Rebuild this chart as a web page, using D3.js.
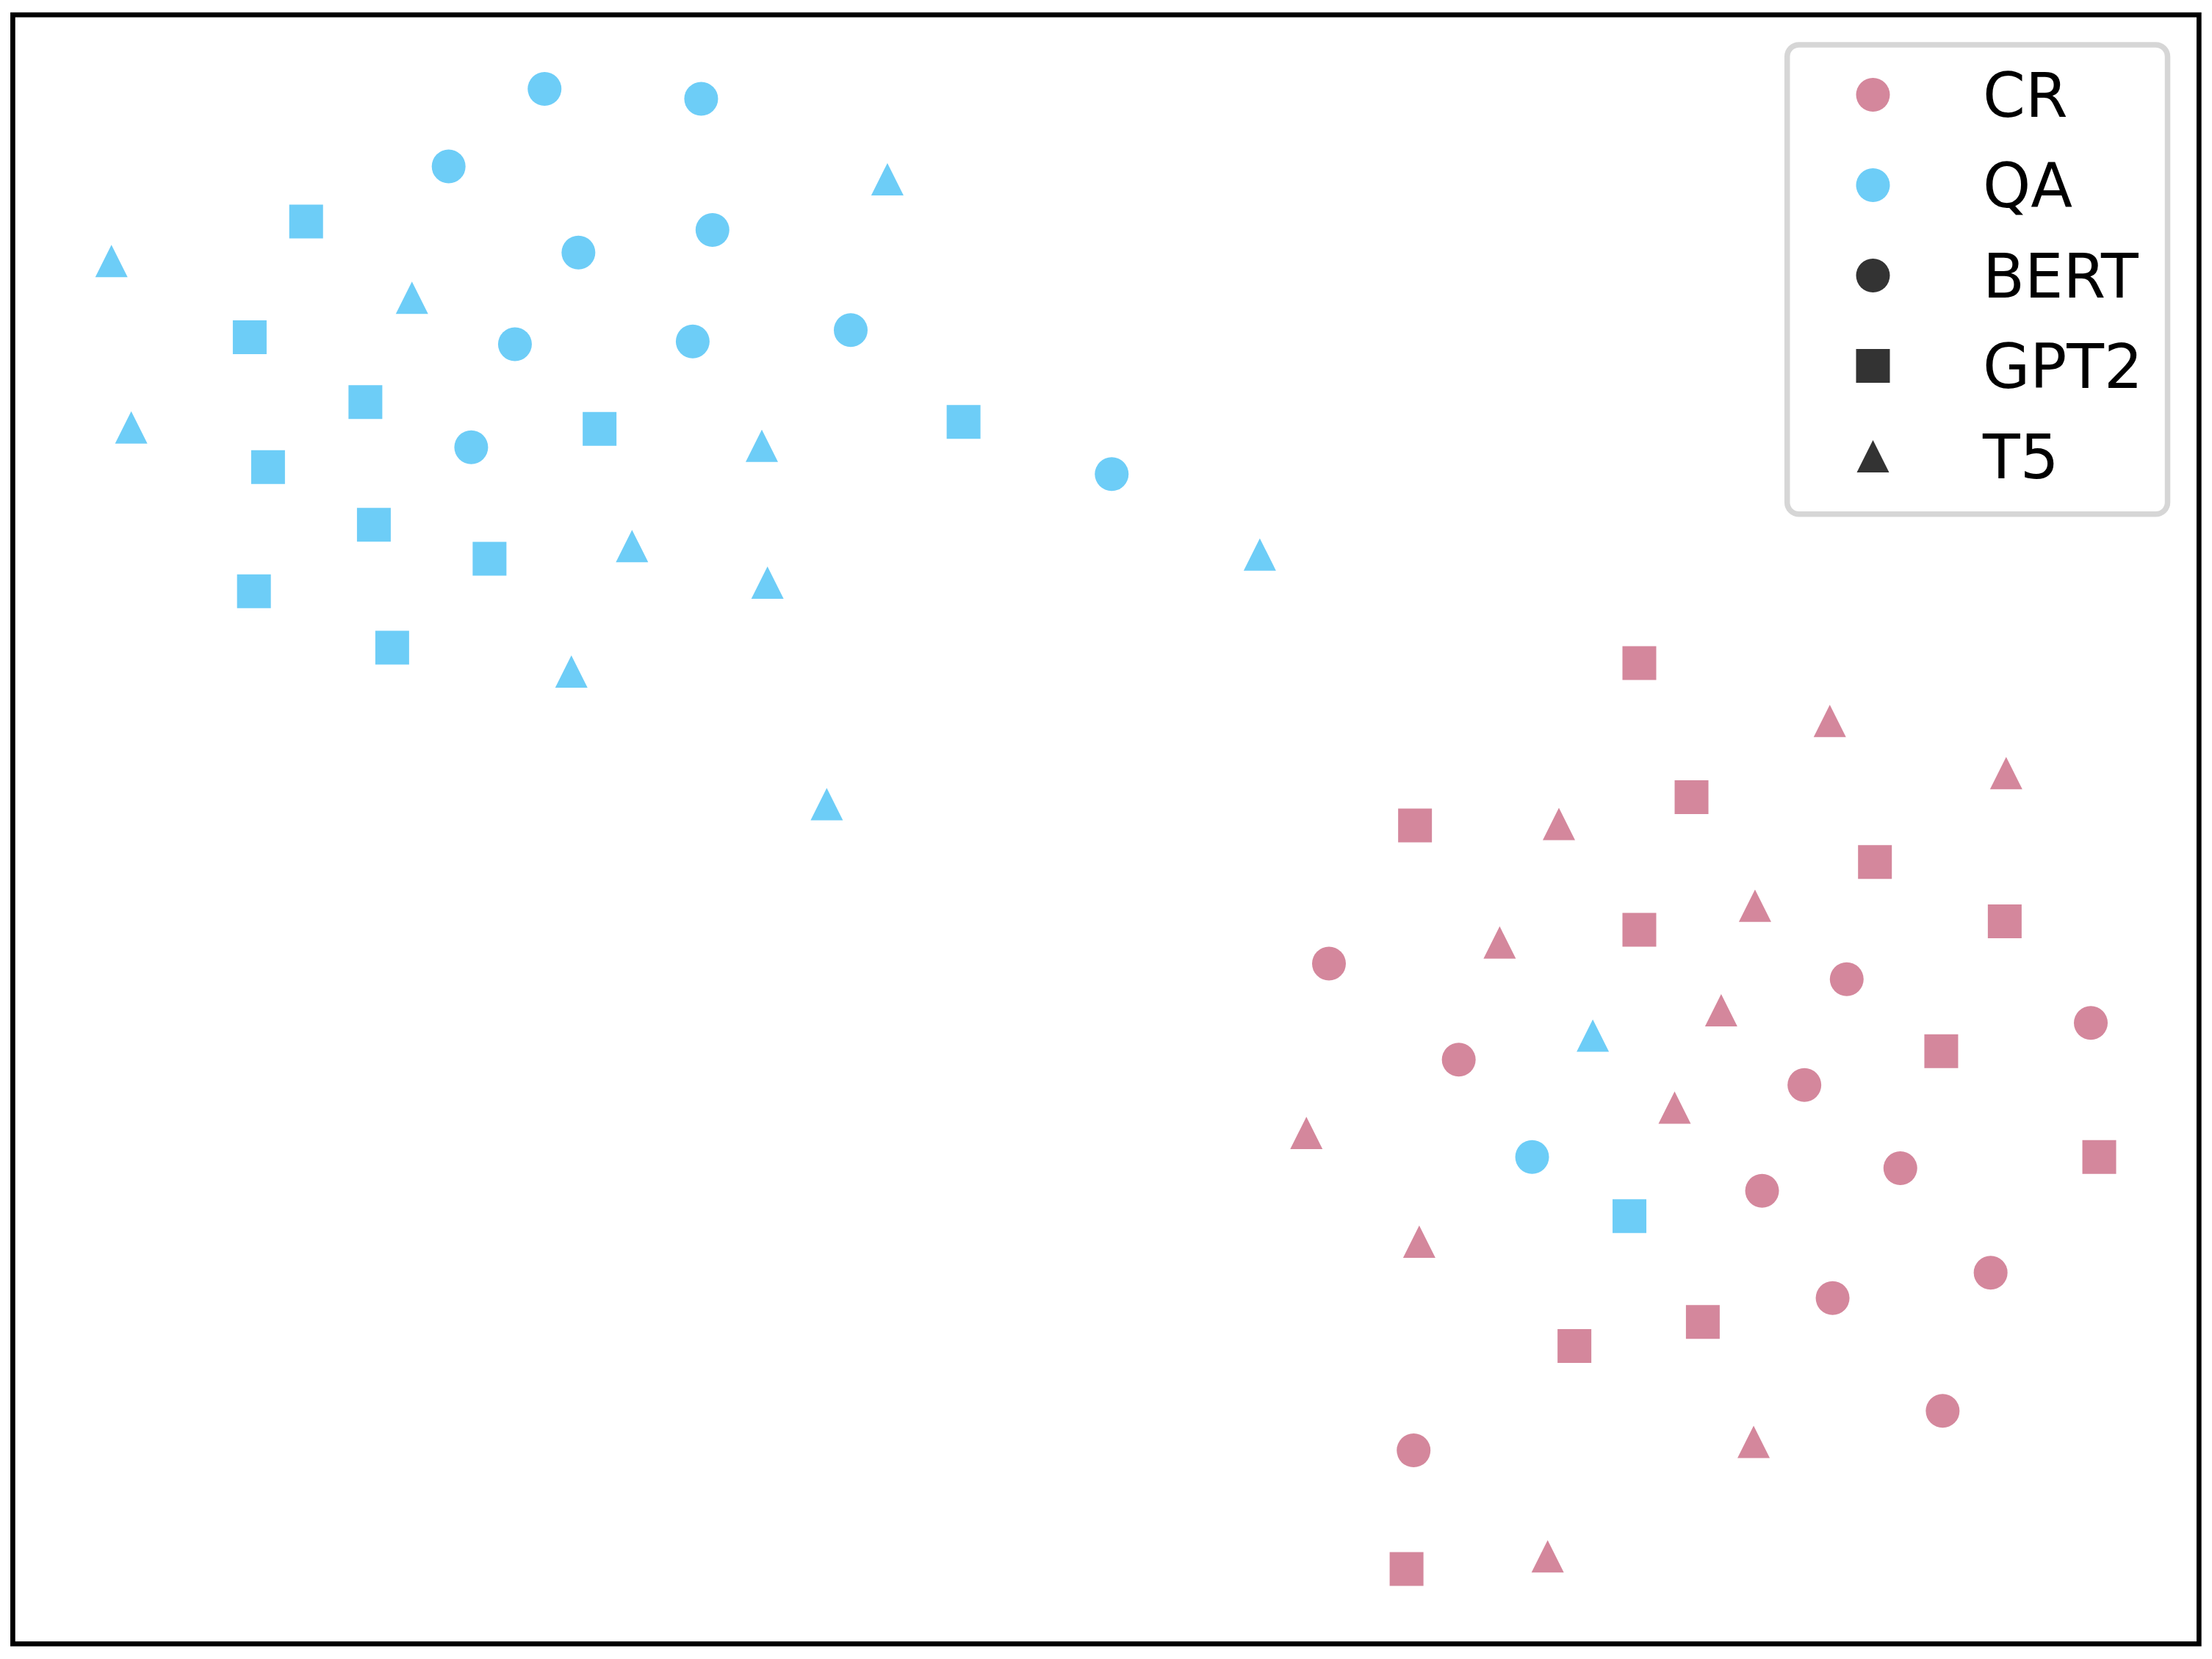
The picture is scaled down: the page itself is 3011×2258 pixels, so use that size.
<!DOCTYPE html>
<html>
<head>
<meta charset="utf-8">
<script src="https://cdn.jsdelivr.net/npm/d3@7"></script>
<style>
  html, body { margin: 0; padding: 0; background: #fff; }
  svg { display: block; }
  text { font-family: "DejaVu Sans", sans-serif; }
</style>
</head>
<body>
<svg id="chart" width="3011" height="2258"></svg>
<script>
// tasks (colour) and models (marker)
const tasks = ['CR', 'QA'];
const taskColors = ['#d4879c', '#6dcdf7'];
const models = ['BERT', 'GPT2', 'T5'];

// 2-d embedding ([x, y], y grows downward)
const qaBert = [[38.6, 6.3], [49.7, 7.0], [31.8, 11.8], [50.5, 16.3], [41.0, 17.9], [36.5, 24.4],
  [49.1, 24.2], [60.3, 23.4], [33.4, 31.7], [78.8, 33.6], [108.6, 82.0]];
const qaGpt2 = [[21.7, 15.7], [17.7, 23.9], [25.9, 28.5], [42.5, 30.4], [19.0, 33.1], [26.5, 37.2],
  [34.7, 39.6], [18.0, 41.9], [27.8, 45.9], [68.3, 29.9], [115.5, 86.2]];
const qaT5 = [[7.9, 18.5], [29.2, 21.1], [9.3, 30.3], [54.0, 31.6], [44.8, 38.7], [54.4, 41.3],
  [40.5, 47.6], [62.9, 12.7], [89.3, 39.3], [58.6, 57.0], [112.9, 73.4]];
const crBert = [[94.2, 68.3], [130.9, 69.4], [148.2, 72.5], [103.4, 75.1], [127.9, 76.9], [134.7, 82.8],
  [124.9, 84.4], [141.1, 90.2], [129.9, 92.0], [137.7, 100.0], [100.2, 102.8]];
const crGpt2 = [[116.2, 47.0], [119.9, 56.5], [100.3, 58.5], [132.9, 61.1], [116.2, 65.9], [142.1, 65.3],
  [137.6, 74.5], [148.8, 82.0], [120.7, 93.7], [111.6, 95.4], [99.7, 111.2]];
const crT5 = [[129.7, 51.1], [142.2, 54.8], [110.5, 58.4], [124.4, 64.2], [106.3, 66.8], [122.0, 71.6],
  [118.7, 78.5], [92.6, 80.3], [100.6, 88.0], [124.3, 102.2], [109.7, 110.3]];

const groups = [
  { task: 'QA', model: 'BERT', values: qaBert },
  { task: 'QA', model: 'GPT2', values: qaGpt2 },
  { task: 'QA', model: 'T5', values: qaT5 },
  { task: 'CR', model: 'BERT', values: crBert },
  { task: 'CR', model: 'GPT2', values: crGpt2 },
  { task: 'CR', model: 'T5', values: crT5 }
];

const points = [];
groups.forEach(g => g.values.forEach(v => points.push({ task: g.task, model: g.model, x: v[0], y: v[1] })));

const svg = d3.select('#chart');
const frame = { left: 17.4, top: 20.2, right: 2993.3, bottom: 2237.4 };

const x = d3.scaleLinear().domain([0.906, 155.87]).range([frame.left, frame.right]);
const y = d3.scaleLinear().domain([1.052, 116.51]).range([frame.top, frame.bottom]);

const color = d3.scaleOrdinal().domain(tasks).range(taskColors);

// matplotlib-like triangle: bbox centred, width = height = sqrt(size)
const triangleUp = {
  draw(ctx, size) {
    const h = Math.sqrt(size) / 2;
    ctx.moveTo(0, -h);
    ctx.lineTo(h, h);
    ctx.lineTo(-h, h);
    ctx.closePath();
  }
};
const markerSize = 46;
const shape = d3.scaleOrdinal().domain(models).range([
  d3.symbol(d3.symbolCircle, Math.PI * (markerSize / 2) * (markerSize / 2)),
  d3.symbol(d3.symbolSquare, markerSize * markerSize),
  d3.symbol(triangleUp, 44 * 44)
]);

svg.append('g')
  .selectAll('path')
  .data(points)
  .enter().append('path')
    .attr('transform', d => `translate(${x(d.x)},${y(d.y)})`)
    .attr('d', d => shape(d.model)())
    .attr('fill', d => color(d.task));

// frame
svg.append('rect')
  .attr('x', frame.left)
  .attr('y', frame.top)
  .attr('width', frame.right - frame.left)
  .attr('height', frame.bottom - frame.top)
  .attr('fill', 'none')
  .attr('stroke', '#000')
  .attr('stroke-width', 6.7);

// legend
const legendItems = tasks.map(t => ({ label: t, fill: color(t), model: 'BERT' }))
  .concat(models.map(m => ({ label: m, fill: '#333333', model: m })));

const legend = svg.append('g');
legend.append('rect')
  .attr('x', 2432.7)
  .attr('y', 61)
  .attr('width', 517.8)
  .attr('height', 638.8)
  .attr('rx', 16)
  .attr('fill', '#fff')
  .attr('stroke', '#d6d6d6')
  .attr('stroke-width', 7.5);

const rowY = d3.scalePoint().domain(legendItems.map(d => d.label)).range([129, 621]);

const row = legend.selectAll('g.item')
  .data(legendItems)
  .enter().append('g')
    .attr('class', 'item')
    .attr('transform', d => `translate(0,${rowY(d.label)})`);

row.append('path')
  .attr('transform', 'translate(2549.5,0)')
  .attr('d', d => shape(d.model)())
  .attr('fill', d => d.fill);

row.append('text')
  .attr('x', 2699)
  .attr('y', 30.3)
  .attr('font-size', 83)
  .attr('fill', '#000')
  .text(d => d.label);
</script>
</body>
</html>
